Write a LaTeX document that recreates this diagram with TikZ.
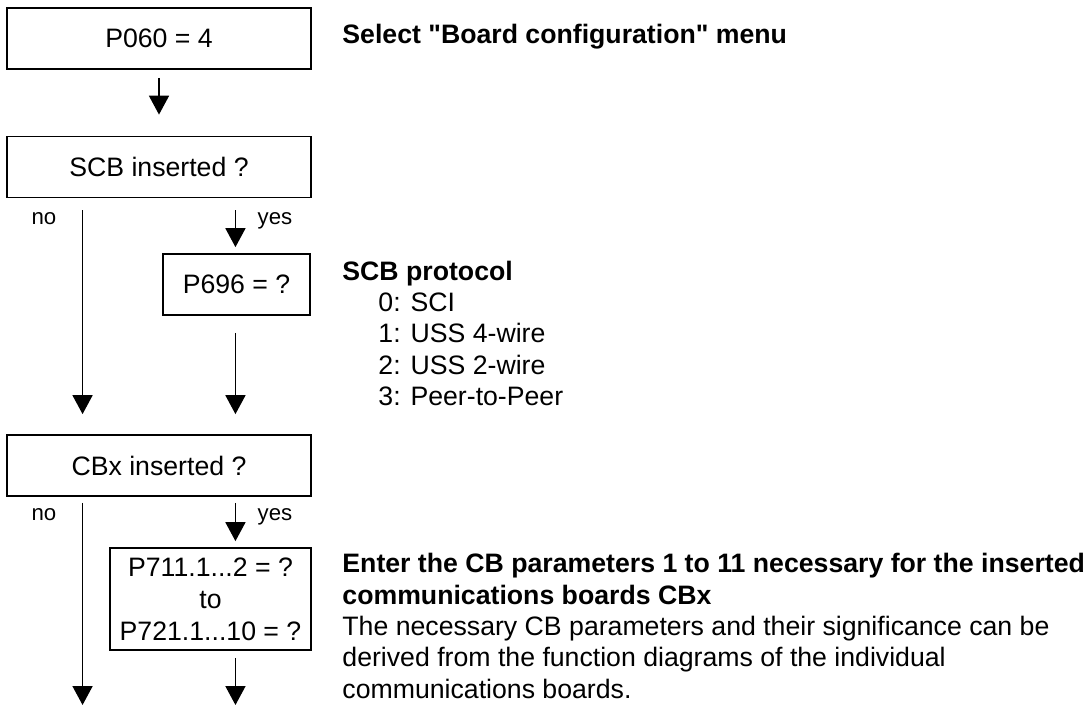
\documentclass[tikz,border=0pt]{standalone}
\usepackage{fontspec}
\setmainfont{Liberation Sans}[Ligatures=TeXOff]
\usetikzlibrary{arrows.meta, calc}

\tikzset{
 box/.style={draw, line width=0.8pt, inner sep=0pt, minimum height=27.45pt, font=\fontsize{12}{14.4}\selectfont},
 flow/.style={line width=0.6pt, -{Triangle[length=8.5pt,width=9pt]}},
 lbl/.style={inner sep=0pt, font=\fontsize{10}{12}\selectfont},
 note/.style={inner sep=0pt, align=left, font=\fontsize{12}{14.1}\selectfont}
}

\begin{document}
\begin{tikzpicture}[x=0.45pt, y=-0.45pt]
\useasboundingbox (0,0) rectangle (1091,706);

%boxes:
\node[box, minimum width=136.8pt] (p060) at (159,38.5) {P060 = 4};
\node[box, minimum width=136.8pt] (scb) at (159,167) {SCB inserted ?};
\node[box, minimum width=66.15pt] (p696) at (236.5,284.5) {P696 = ?};
\node[box, minimum width=136.8pt] (cbx) at (159,465.5) {CBx inserted ?};
\node[box, minimum width=90.45pt, minimum height=45.9pt, align=center] (p711) at (210.5,599) {P711.1...2 = ?\\to\\P721.1...10 = ?};

%branch columns at 1/4 and 3/4 of the big boxes:
\coordinate (noA) at ($(scb.south west)!.25!(scb.south east)$);
\coordinate (yesA) at ($(scb.south west)!.75!(scb.south east)$);
\coordinate (noB) at ($(cbx.south west)!.25!(cbx.south east)$);
\coordinate (yesB) at ($(cbx.south west)!.75!(cbx.south east)$);
\coordinate (bottom) at (0,705);

%arrows:
\draw[flow, shorten <=3.6pt, shorten >=9.45pt] (p060.south) -- (scb.north);
\draw[flow, shorten <=5.4pt, shorten >=9pt] (noA) -- (noA |- cbx.north);
\draw[flow, shorten <=5.4pt, shorten >=2.7pt] (yesA) -- (yesA |- p696.north);
\draw[flow, shorten <=7.65pt, shorten >=9pt] (yesA |- p696.south) -- (yesA |- cbx.north);
\draw[flow, shorten <=2.7pt] (noB) -- (noB |- bottom);
\draw[flow, shorten <=2.7pt, shorten >=2.7pt] (yesB) -- (yesB |- p711.north);
\draw[flow, shorten <=3.15pt] (yesB |- p711.south) -- (yesB |- bottom);

%labels:
\node[lbl, anchor=base] (no1) at (44,224) {no};
\node[lbl, anchor=base] (yes1) at (275,224) {yes};
\node[lbl, anchor=base] (no2) at (44,520) {no};
\node[lbl, anchor=base] (yes2) at (275,520) {yes};

%notes:
\node[note, anchor=base west] (selnote) at (342,44) {\bfseries Select "Board configuration" menu};
\node[note, anchor=north west] (scbnote) at (342,260.5) {\textbf{SCB protocol}\\
 \hspace*{16.2pt}0: SCI\\
 \hspace*{16.2pt}1: USS 4-wire\\
 \hspace*{16.2pt}2: USS 2-wire\\
 \hspace*{16.2pt}3: Peer-to-Peer};
\node[note, anchor=north west] (cbnote) at (342,553) {\textbf{Enter the CB parameters 1 to 11 necessary for the inserted}\\
 \textbf{communications boards CBx}\\
 The necessary CB parameters and their significance can be\\
 derived from the function diagrams of the individual\\
 communications boards.};

\end{tikzpicture}
\end{document}
